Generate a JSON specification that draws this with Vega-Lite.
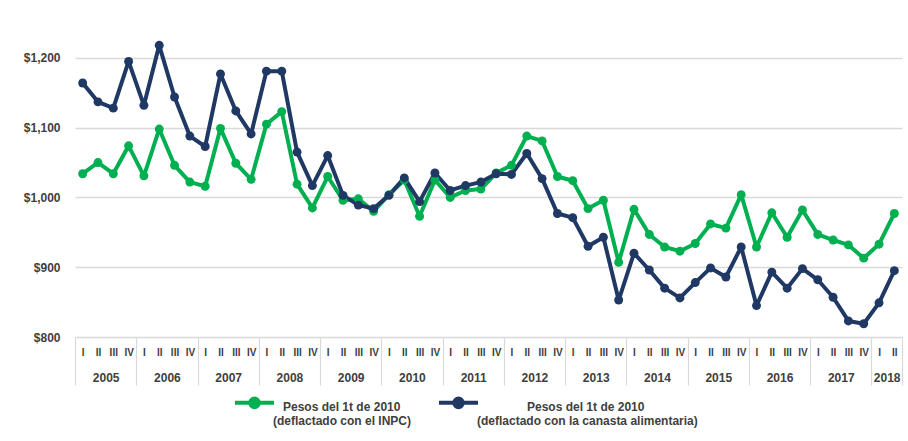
{
  "$schema": "https://vega.github.io/schema/vega-lite/v6.json",
  "autosize": {"type": "none"},
  "width": 827,
  "height": 314,
  "padding": {"left": 75, "top": 23, "right": 6, "bottom": 104},
  "background": "white",
  "config": {
    "view": {"stroke": null},
    "font": "Liberation Sans"
  },
  "data": {
    "values": [
      {"t":0,"anio":2005,"trim":"I","serie":"INPC","v":1034},
      {"t":1,"anio":2005,"trim":"II","serie":"INPC","v":1050},
      {"t":2,"anio":2005,"trim":"III","serie":"INPC","v":1034},
      {"t":3,"anio":2005,"trim":"IV","serie":"INPC","v":1074},
      {"t":4,"anio":2006,"trim":"I","serie":"INPC","v":1031},
      {"t":5,"anio":2006,"trim":"II","serie":"INPC","v":1098},
      {"t":6,"anio":2006,"trim":"III","serie":"INPC","v":1046},
      {"t":7,"anio":2006,"trim":"IV","serie":"INPC","v":1022},
      {"t":8,"anio":2007,"trim":"I","serie":"INPC","v":1016},
      {"t":9,"anio":2007,"trim":"II","serie":"INPC","v":1099},
      {"t":10,"anio":2007,"trim":"III","serie":"INPC","v":1049},
      {"t":11,"anio":2007,"trim":"IV","serie":"INPC","v":1026},
      {"t":12,"anio":2008,"trim":"I","serie":"INPC","v":1105},
      {"t":13,"anio":2008,"trim":"II","serie":"INPC","v":1123},
      {"t":14,"anio":2008,"trim":"III","serie":"INPC","v":1019},
      {"t":15,"anio":2008,"trim":"IV","serie":"INPC","v":985},
      {"t":16,"anio":2009,"trim":"I","serie":"INPC","v":1030},
      {"t":17,"anio":2009,"trim":"II","serie":"INPC","v":996},
      {"t":18,"anio":2009,"trim":"III","serie":"INPC","v":998},
      {"t":19,"anio":2009,"trim":"IV","serie":"INPC","v":980},
      {"t":20,"anio":2010,"trim":"I","serie":"INPC","v":1004},
      {"t":21,"anio":2010,"trim":"II","serie":"INPC","v":1025},
      {"t":22,"anio":2010,"trim":"III","serie":"INPC","v":973},
      {"t":23,"anio":2010,"trim":"IV","serie":"INPC","v":1025},
      {"t":24,"anio":2011,"trim":"I","serie":"INPC","v":1000},
      {"t":25,"anio":2011,"trim":"II","serie":"INPC","v":1010},
      {"t":26,"anio":2011,"trim":"III","serie":"INPC","v":1012},
      {"t":27,"anio":2011,"trim":"IV","serie":"INPC","v":1035},
      {"t":28,"anio":2012,"trim":"I","serie":"INPC","v":1046},
      {"t":29,"anio":2012,"trim":"II","serie":"INPC","v":1088},
      {"t":30,"anio":2012,"trim":"III","serie":"INPC","v":1081},
      {"t":31,"anio":2012,"trim":"IV","serie":"INPC","v":1030},
      {"t":32,"anio":2013,"trim":"I","serie":"INPC","v":1024},
      {"t":33,"anio":2013,"trim":"II","serie":"INPC","v":984},
      {"t":34,"anio":2013,"trim":"III","serie":"INPC","v":996},
      {"t":35,"anio":2013,"trim":"IV","serie":"INPC","v":907},
      {"t":36,"anio":2014,"trim":"I","serie":"INPC","v":983},
      {"t":37,"anio":2014,"trim":"II","serie":"INPC","v":947},
      {"t":38,"anio":2014,"trim":"III","serie":"INPC","v":929},
      {"t":39,"anio":2014,"trim":"IV","serie":"INPC","v":923},
      {"t":40,"anio":2015,"trim":"I","serie":"INPC","v":934},
      {"t":41,"anio":2015,"trim":"II","serie":"INPC","v":962},
      {"t":42,"anio":2015,"trim":"III","serie":"INPC","v":956},
      {"t":43,"anio":2015,"trim":"IV","serie":"INPC","v":1004},
      {"t":44,"anio":2016,"trim":"I","serie":"INPC","v":929},
      {"t":45,"anio":2016,"trim":"II","serie":"INPC","v":978},
      {"t":46,"anio":2016,"trim":"III","serie":"INPC","v":943},
      {"t":47,"anio":2016,"trim":"IV","serie":"INPC","v":982},
      {"t":48,"anio":2017,"trim":"I","serie":"INPC","v":947},
      {"t":49,"anio":2017,"trim":"II","serie":"INPC","v":939},
      {"t":50,"anio":2017,"trim":"III","serie":"INPC","v":932},
      {"t":51,"anio":2017,"trim":"IV","serie":"INPC","v":913},
      {"t":52,"anio":2018,"trim":"I","serie":"INPC","v":933},
      {"t":53,"anio":2018,"trim":"II","serie":"INPC","v":977},
      {"t":0,"anio":2005,"trim":"I","serie":"Canasta","v":1164},
      {"t":1,"anio":2005,"trim":"II","serie":"Canasta","v":1137},
      {"t":2,"anio":2005,"trim":"III","serie":"Canasta","v":1128},
      {"t":3,"anio":2005,"trim":"IV","serie":"Canasta","v":1195},
      {"t":4,"anio":2006,"trim":"I","serie":"Canasta","v":1132},
      {"t":5,"anio":2006,"trim":"II","serie":"Canasta","v":1218},
      {"t":6,"anio":2006,"trim":"III","serie":"Canasta","v":1144},
      {"t":7,"anio":2006,"trim":"IV","serie":"Canasta","v":1088},
      {"t":8,"anio":2007,"trim":"I","serie":"Canasta","v":1073},
      {"t":9,"anio":2007,"trim":"II","serie":"Canasta","v":1177},
      {"t":10,"anio":2007,"trim":"III","serie":"Canasta","v":1124},
      {"t":11,"anio":2007,"trim":"IV","serie":"Canasta","v":1091},
      {"t":12,"anio":2008,"trim":"I","serie":"Canasta","v":1181},
      {"t":13,"anio":2008,"trim":"II","serie":"Canasta","v":1181},
      {"t":14,"anio":2008,"trim":"III","serie":"Canasta","v":1065},
      {"t":15,"anio":2008,"trim":"IV","serie":"Canasta","v":1017},
      {"t":16,"anio":2009,"trim":"I","serie":"Canasta","v":1060},
      {"t":17,"anio":2009,"trim":"II","serie":"Canasta","v":1003},
      {"t":18,"anio":2009,"trim":"III","serie":"Canasta","v":989},
      {"t":19,"anio":2009,"trim":"IV","serie":"Canasta","v":984},
      {"t":20,"anio":2010,"trim":"I","serie":"Canasta","v":1003},
      {"t":21,"anio":2010,"trim":"II","serie":"Canasta","v":1028},
      {"t":22,"anio":2010,"trim":"III","serie":"Canasta","v":994},
      {"t":23,"anio":2010,"trim":"IV","serie":"Canasta","v":1035},
      {"t":24,"anio":2011,"trim":"I","serie":"Canasta","v":1010},
      {"t":25,"anio":2011,"trim":"II","serie":"Canasta","v":1017},
      {"t":26,"anio":2011,"trim":"III","serie":"Canasta","v":1022},
      {"t":27,"anio":2011,"trim":"IV","serie":"Canasta","v":1034},
      {"t":28,"anio":2012,"trim":"I","serie":"Canasta","v":1033},
      {"t":29,"anio":2012,"trim":"II","serie":"Canasta","v":1063},
      {"t":30,"anio":2012,"trim":"III","serie":"Canasta","v":1027},
      {"t":31,"anio":2012,"trim":"IV","serie":"Canasta","v":977},
      {"t":32,"anio":2013,"trim":"I","serie":"Canasta","v":971},
      {"t":33,"anio":2013,"trim":"II","serie":"Canasta","v":930},
      {"t":34,"anio":2013,"trim":"III","serie":"Canasta","v":943},
      {"t":35,"anio":2013,"trim":"IV","serie":"Canasta","v":853},
      {"t":36,"anio":2014,"trim":"I","serie":"Canasta","v":920},
      {"t":37,"anio":2014,"trim":"II","serie":"Canasta","v":896},
      {"t":38,"anio":2014,"trim":"III","serie":"Canasta","v":870},
      {"t":39,"anio":2014,"trim":"IV","serie":"Canasta","v":856},
      {"t":40,"anio":2015,"trim":"I","serie":"Canasta","v":878},
      {"t":41,"anio":2015,"trim":"II","serie":"Canasta","v":899},
      {"t":42,"anio":2015,"trim":"III","serie":"Canasta","v":886},
      {"t":43,"anio":2015,"trim":"IV","serie":"Canasta","v":929},
      {"t":44,"anio":2016,"trim":"I","serie":"Canasta","v":845},
      {"t":45,"anio":2016,"trim":"II","serie":"Canasta","v":893},
      {"t":46,"anio":2016,"trim":"III","serie":"Canasta","v":870},
      {"t":47,"anio":2016,"trim":"IV","serie":"Canasta","v":898},
      {"t":48,"anio":2017,"trim":"I","serie":"Canasta","v":882},
      {"t":49,"anio":2017,"trim":"II","serie":"Canasta","v":857},
      {"t":50,"anio":2017,"trim":"III","serie":"Canasta","v":823},
      {"t":51,"anio":2017,"trim":"IV","serie":"Canasta","v":819},
      {"t":52,"anio":2018,"trim":"I","serie":"Canasta","v":849},
      {"t":53,"anio":2018,"trim":"II","serie":"Canasta","v":895}
    ]
  },
  "resolve": {"axis": {"x": "independent"}},
  "layer": [
    {
      "mark": {"type": "line", "strokeWidth": 4, "strokeJoin": "round", "point": {"filled": true, "size": 80, "opacity": 1}},
      "encoding": {
        "x": {
          "field": "t", "type": "quantitative",
          "scale": {"domain": [-0.5, 53.5], "nice": false, "zero": false},
          "axis": {
            "orient": "bottom", "title": null, "grid": false, "domain": false, "ticks": false,
            "values": [0,1,2,3,4,5,6,7,8,9,10,11,12,13,14,15,16,17,18,19,20,21,22,23,24,25,26,27,28,29,30,31,32,33,34,35,36,37,38,39,40,41,42,43,44,45,46,47,48,49,50,51,52,53],
            "labelExpr": "['I','II','III','IV'][datum.value % 4]",
            "labelFont": "Liberation Sans", "labelFontSize": 10, "labelFontWeight": "bold", "labelColor": "#404040",
            "labelPadding": 10, "labelOverlap": false, "labelFlush": false, "labelBound": false
          }
        },
        "y": {
          "field": "v", "type": "quantitative",
          "scale": {"domain": [800, 1250], "nice": false, "zero": false},
          "axis": {
            "title": null, "values": [800, 900, 1000, 1100, 1200], "format": "$,.0f",
            "labelFont": "Liberation Sans", "labelFontSize": 12, "labelFontWeight": "bold", "labelColor": "#404040",
            "labelPadding": 15, "ticks": false, "domain": false,
            "grid": true, "gridColor": "#D9D9D9", "gridWidth": 1.5
          }
        },
        "color": {
          "field": "serie", "type": "nominal",
          "scale": {"domain": ["INPC", "Canasta"], "range": ["#00B050", "#1F3864"]},
          "legend": {
            "orient": "none", "legendX": 158, "legendY": 362, "direction": "horizontal",
            "title": null, "padding": 0,
            "labelExpr": "datum.value == 'INPC' ? ['\u200b\u00a0\u00a0\u00a0Pesos del 1t de 2010', '(deflactado con el INPC)'] : ['\u200b\u00a0\u00a0\u00a0\u00a0\u00a0\u00a0\u00a0\u00a0\u00a0\u00a0\u00a0\u00a0\u00a0\u00a0\u00a0Pesos del 1t de 2010', '(deflactado con la canasta alimentaria)']",
            "labelFont": "Liberation Sans", "labelFontSize": 12, "labelFontWeight": "bold", "labelColor": "#404040",
            "labelLimit": 500, "labelOffset": -3, "columnPadding": 19,
            "symbolType": "M-1,-0.2L1,-0.2M-0.22,-0.2A0.22,0.22,0,1,1,0.22,-0.2A0.22,0.22,0,1,1,-0.22,-0.2Z",
            "symbolSize": 1521, "symbolStrokeWidth": 4
          }
        }
      }
    },
    {
      "mark": {"type": "rule", "opacity": 0},
      "encoding": {
        "x": {
          "field": "t", "type": "quantitative",
          "axis": {
            "orient": "bottom", "title": null, "grid": false, "domain": false, "ticks": false,
            "values": [1.5, 5.5, 9.5, 13.5, 17.5, 21.5, 25.5, 29.5, 33.5, 37.5, 41.5, 45.5, 49.5, 52.5],
            "labelExpr": "'' + (2005 + floor(datum.value / 4))",
            "labelFont": "Liberation Sans", "labelFontSize": 12, "labelFontWeight": "bold", "labelColor": "#404040",
            "labelPadding": 35, "labelOverlap": false, "labelFlush": false, "labelBound": false
          }
        }
      }
    },
    {
      "mark": {"type": "rule", "opacity": 0},
      "encoding": {
        "x": {
          "field": "t", "type": "quantitative",
          "axis": {
            "orient": "bottom", "title": null, "grid": false, "domain": false, "labels": false,
            "values": [-0.5, 3.5, 7.5, 11.5, 15.5, 19.5, 23.5, 27.5, 31.5, 35.5, 39.5, 43.5, 47.5, 51.5, 53.5],
            "ticks": true, "tickSize": 48, "tickColor": "#D9D9D9", "tickWidth": 1.2
          }
        }
      }
    }
  ]
}
